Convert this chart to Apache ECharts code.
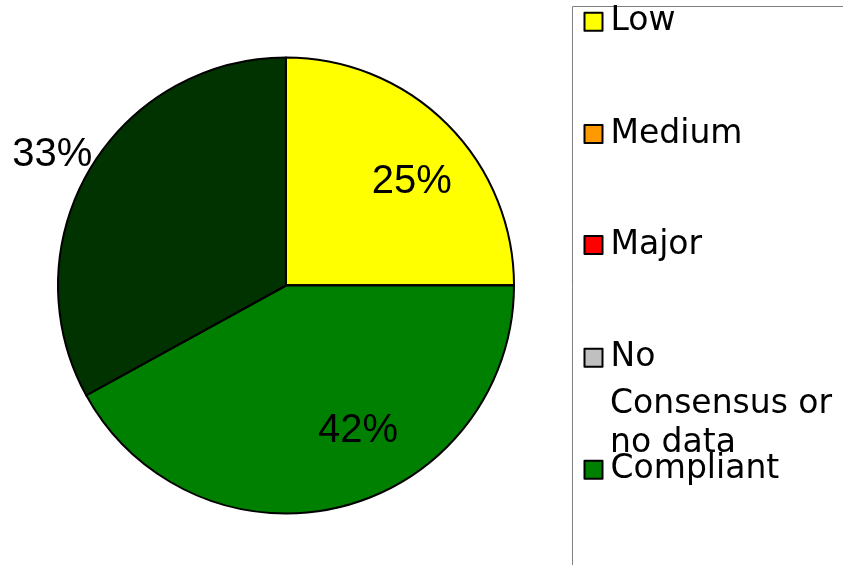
<!DOCTYPE html>
<html>
<head>
<meta charset="utf-8">
<script src="https://cdn.jsdelivr.net/npm/echarts@6/dist/echarts.min.js"></script>
<style>
html,body{margin:0;padding:0;background:#fff;}
#chart{width:843px;height:565px;}
</style>
</head>
<body>
<div id="chart"></div>
<script>
// ---- data ----
const categories = ['Low', 'Medium', 'Major', 'No Consensus or no data', 'Compliant', 'Other'];
const values = [25, 0, 0, 0, 42, 33];
const legendNames = ['Low', 'Medium', 'Major', 'No Consensus or no data', 'Compliant'];

// ---- styles ----
const colors = ['#FFFF00', '#FF9900', '#FF0000', '#C0C0C0', '#008000', '#003300'];
const labelOffsets = [[43, -21], [0, 0], [0, 0], [0, 0], [43, 32], [-133, -71]];
const legendTops = [5.2, 117.5, 228.5, 341.2, 453.2];

const chart = echarts.init(document.getElementById('chart'), null, {renderer: 'canvas'});

const pieData = categories.map((name, i) => ({
  name: name,
  value: values[i],
  itemStyle: {color: colors[i]},
  label: {show: values[i] > 0, offset: labelOffsets[i]}
}));

const legends = legendNames.map((name, i) => ({
  data: [name],
  orient: 'vertical',
  left: 583.5,
  top: legendTops[i],
  padding: 0,
  icon: 'rect',
  itemWidth: 18,
  itemHeight: 18,
  itemStyle: {borderColor: '#000', borderWidth: 2},
  selectedMode: false,
  formatter: n => (n === 'No Consensus or no data' ? 'No' : n),
  textStyle: {
    fontFamily: 'DejaVu Sans',
    fontSize: 33,
    lineHeight: 33,
    color: '#000',
    padding: [0, 0, 0, 3]
  }
}));

chart.setOption({
  animation: false,
  backgroundColor: '#fff',
  legend: legends,
  graphic: [
    {
      type: 'rect',
      z: -10,
      shape: {x: 572.5, y: 6.5, width: 400, height: 700},
      style: {fill: 'none', stroke: '#7f7f7f', lineWidth: 1}
    },
    {
      type: 'text',
      x: 610,
      y: 423.5,
      style: {
        text: 'Consensus or\nno data',
        fontFamily: 'DejaVu Sans',
        fontSize: 33,
        lineHeight: 39,
        fill: '#000',
        verticalAlign: 'middle'
      }
    }
  ],
  series: [{
    type: 'pie',
    center: [286, 285.5],
    radius: 228,
    startAngle: 90,
    clockwise: true,
    avoidLabelOverlap: false,
    silent: true,
    itemStyle: {borderColor: '#000', borderWidth: 2},
    label: {
      position: 'inside',
      formatter: '{d}%',
      fontFamily: 'Liberation Sans',
      fontSize: 40,
      color: '#000'
    },
    labelLine: {show: false},
    emphasis: {disabled: true},
    data: pieData
  }]
});
</script>
</body>
</html>
